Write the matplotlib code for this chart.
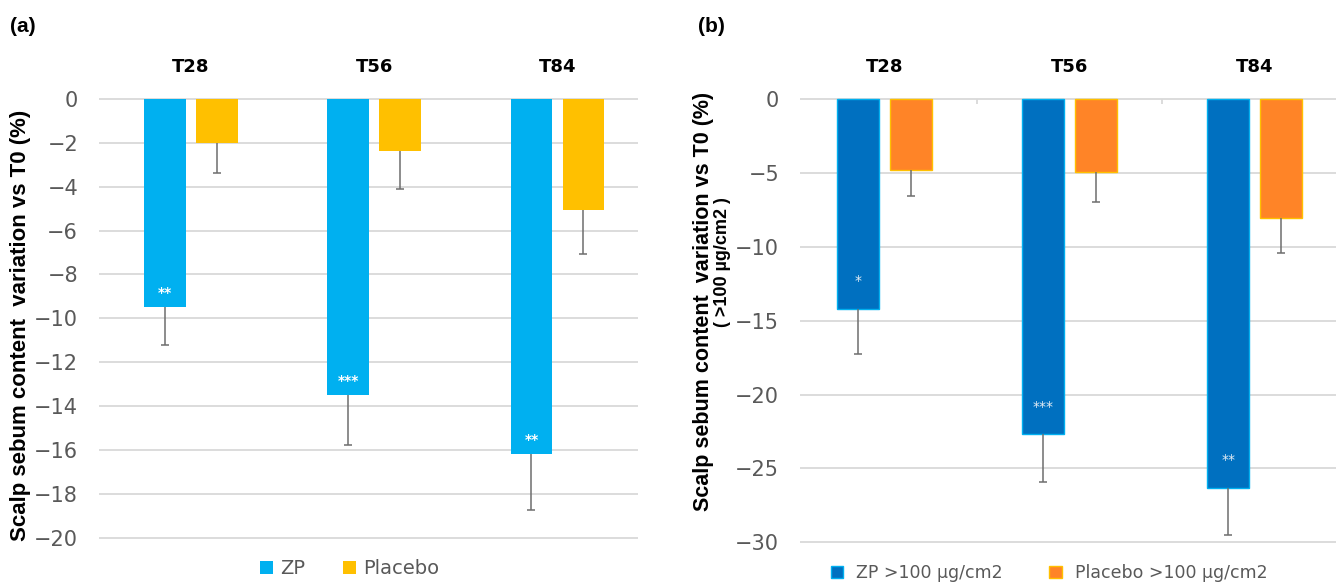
import matplotlib
matplotlib.use("Agg")
import matplotlib.pyplot as plt
import numpy as np
from matplotlib.ticker import MultipleLocator

# --------- DATA ----------
timepoints = ["T28", "T56", "T84"]

# (a) all subjects
zp_a = [-9.48, -13.51, -16.19]
zp_a_err = [1.76, 2.25, 2.55]
placebo_a = [-2.00, -2.36, -5.06]
placebo_a_err = [1.36, 1.73, 2.01]
stars_a = ["**", "***", "**"]

# (b) subjects with sebum >100 µg/cm2
zp_b = [-14.19, -22.69, -26.34]
zp_b_err = [3.09, 3.25, 3.16]
placebo_b = [-4.83, -4.97, -8.02]
placebo_b_err = [1.76, 1.98, 2.37]
stars_b = ["*", "***", "**"]

W, H = 1336, 582
fig = plt.figure(figsize=(W / 100, H / 100), dpi=100)

GRID = "#D9D9D9"
TICK = "#595959"
ERR = "#6E6E6E"


def px_axes(left, right, top, bottom):
    return fig.add_axes([left / W, 1 - bottom / H, (right - left) / W, (bottom - top) / H])


def style_axes(ax, ylim, step, xlim):
    ax.set_ylim(*ylim)
    ax.set_xlim(*xlim)
    ax.yaxis.set_major_locator(MultipleLocator(step))
    ax.grid(axis="y", color=GRID, linewidth=1.3)
    ax.set_axisbelow(True)
    for s in ax.spines.values():
        s.set_visible(False)
    ax.tick_params(axis="y", length=0, pad=15, labelsize=15, labelcolor=TICK)
    ax.xaxis.tick_top()
    ax.set_xticks(np.arange(len(timepoints)))
    ax.set_xticklabels(timepoints, fontweight="bold", fontsize=13)
    ax.tick_params(axis="x", length=0, pad=12)


def lower_err(ax, xs, vals, errs):
    # one-sided error bar: only the cap below the bar end is kept
    _, caps, _ = ax.errorbar(xs, vals, yerr=[errs, np.zeros(len(vals))], fmt="none",
                             ecolor=ERR, elinewidth=1.1, capsize=2.6, capthick=1.1)
    caps[1].set_visible(False)


def draw_bars(ax, zp, zp_err, pl, pl_err, zp_kw, pl_kw):
    x = np.arange(len(timepoints))
    w = 0.228
    off = 0.142
    ax.bar(x - off, zp, w, **zp_kw)
    ax.bar(x + off, pl, w, **pl_kw)
    lower_err(ax, x - off, zp, zp_err)
    lower_err(ax, x + off, pl, pl_err)
    return x, off


# --------- PANEL (a) ----------
ppu_a = 21.93
ax1 = px_axes(99, 638, 99 - 0.3 * ppu_a, 99 + 20.3 * ppu_a)
x, off = draw_bars(ax1, zp_a, zp_a_err, placebo_a, placebo_a_err,
                   dict(color="#00B0F0", label="ZP"),
                   dict(color="#FFC000", label="Placebo"))
style_axes(ax1, (-20.3, 0.3), 2, (-0.503, 2.44))
for xi, v, s in zip(x, zp_a, stars_a):
    ax1.annotate(s, (xi - off, v), xytext=(0, 10), textcoords="offset points",
                 ha="center", va="center", color="white", fontsize=10, fontweight="bold")
ax1.text(-78 / 539, 0.5 - (325 - 317.8) / 452, "Scalp sebum content  variation vs T0 (%)",
         transform=ax1.transAxes, rotation=90, ha="center", va="center",
         family="Liberation Sans", fontweight="bold", fontsize=16)
ax1.legend(loc="center", bbox_to_anchor=(350 / W, 1 - 569 / H), bbox_transform=fig.transFigure,
           ncol=2, frameon=False, fontsize=14, labelcolor=TICK, handlelength=0.67,
           handleheight=0.67, handletextpad=0.36, columnspacing=1.95, borderpad=0)

# --------- PANEL (b) ----------
ppu_b = 14.777
ax2 = px_axes(800, 1336, 99 - 0.4 * ppu_b, 99 + 30.4 * ppu_b)
x, off = draw_bars(ax2, zp_b, zp_b_err, placebo_b, placebo_b_err,
                   dict(color="#0070C0", edgecolor="#00B0F0", linewidth=1,
                        label="ZP >100 µg/cm2"),
                   dict(color="#FF8427", edgecolor="#FFC000", linewidth=1,
                        label="Placebo >100 µg/cm2"))
style_axes(ax2, (-30.4, 0.4), 5, (-0.457, 2.44))
ax2.vlines(x[:-1] + 0.5, -0.35, 0, color=GRID, linewidth=1.3)
for xi, v, s in zip(x, zp_b, stars_b):
    ax2.annotate(s, (xi - off, v), xytext=(0, 20), textcoords="offset points",
                 ha="center", va="center", color="#E4ECF4", fontsize=10)
ax2.text(-96 / 536, 0.5 - (301 - 320.6) / 455, "Scalp sebum content  variation vs T0 (%)",
         transform=ax2.transAxes, rotation=90, ha="center", va="center",
         family="Liberation Sans", fontweight="bold", fontsize=15.5)
ax2.text(-77 / 536, 0.5 - (262 - 320.6) / 455, "( >100 µg/cm2 )",
         transform=ax2.transAxes, rotation=90, ha="center", va="center",
         family="Liberation Sans", fontweight="bold", fontsize=13)
ax2.legend(loc="center", bbox_to_anchor=(1049 / W, 1 - 573 / H), bbox_transform=fig.transFigure,
           ncol=2, frameon=False, fontsize=12.5, labelcolor=TICK, handlelength=0.7,
           handleheight=0.7, handletextpad=0.75, columnspacing=2.7, borderpad=0)

# --------- PANEL LETTERS ----------
fig.text(10 / W, 1 - 27 / H, "(a)", family="Liberation Sans", fontweight="bold",
         fontsize=15, va="center")
fig.text(698 / W, 1 - 27 / H, "(b)", family="Liberation Sans", fontweight="bold",
         fontsize=15, va="center")

fig.savefig("out.png", dpi=100)
